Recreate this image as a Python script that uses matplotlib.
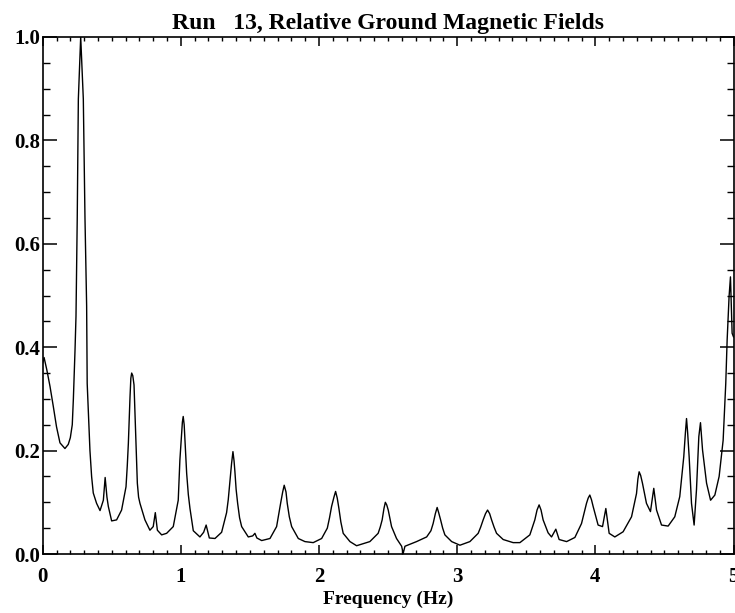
import matplotlib
matplotlib.use("Agg")
import matplotlib.pyplot as plt
from matplotlib.ticker import MultipleLocator

# Frequency (Hz) and relative field values
freq = [0.000, 0.010, 0.030, 0.053, 0.077, 0.100, 0.125, 0.161, 0.185, 0.200,
        0.214, 0.222, 0.234, 0.241, 0.250, 0.258, 0.275, 0.294, 0.306, 0.318,
        0.322, 0.342, 0.354, 0.366, 0.390, 0.415, 0.439, 0.452, 0.465, 0.475,
        0.499, 0.535, 0.571, 0.603, 0.612, 0.620, 0.632, 0.638, 0.644, 0.652,
        0.661, 0.667, 0.673, 0.685, 0.694, 0.704, 0.740, 0.776, 0.800, 0.815,
        0.830, 0.861, 0.897, 0.945, 0.981, 0.993, 1.000, 1.006, 1.011, 1.017,
        1.024, 1.030, 1.042, 1.054, 1.066, 1.090, 1.138, 1.165, 1.183, 1.206,
        1.247, 1.295, 1.331, 1.343, 1.355, 1.367, 1.377, 1.385, 1.391, 1.400,
        1.411, 1.425, 1.440, 1.488, 1.520, 1.536, 1.550, 1.585, 1.645, 1.693,
        1.705, 1.722, 1.737, 1.748, 1.761, 1.770, 1.785, 1.802, 1.850, 1.898,
        1.958, 2.019, 2.060, 2.076, 2.091, 2.108, 2.120, 2.132, 2.144, 2.158,
        2.175, 2.224, 2.272, 2.368, 2.428, 2.443, 2.457, 2.470, 2.480, 2.490,
        2.501, 2.512, 2.525, 2.561, 2.598, 2.609, 2.622, 2.706, 2.779, 2.810,
        2.826, 2.842, 2.855, 2.866, 2.880, 2.895, 2.911, 2.960, 3.020, 3.092,
        3.152, 3.170, 3.188, 3.205, 3.220, 3.235, 3.249, 3.267, 3.285, 3.333,
        3.405, 3.454, 3.526, 3.562, 3.578, 3.593, 3.607, 3.622, 3.658, 3.683,
        3.714, 3.738, 3.792, 3.852, 3.900, 3.936, 3.948, 3.960, 3.972, 3.984,
        4.020, 4.052, 4.076, 4.100, 4.141, 4.201, 4.262, 4.298, 4.308, 4.317,
        4.328, 4.341, 4.370, 4.399, 4.423, 4.443, 4.479, 4.527, 4.575, 4.611,
        4.640, 4.652, 4.660, 4.668, 4.679, 4.696, 4.715, 4.732, 4.749, 4.761,
        4.776, 4.805, 4.834, 4.865, 4.896, 4.925, 4.944, 4.954, 4.968, 4.978,
        4.990, 5.000]

field = [0.370, 0.380, 0.356, 0.324, 0.285, 0.246, 0.215, 0.204, 0.212, 0.225,
         0.250, 0.300, 0.395, 0.460, 0.650, 0.880, 1.000, 0.880, 0.650, 0.480,
         0.330, 0.200, 0.150, 0.118, 0.098, 0.084, 0.104, 0.148, 0.110, 0.092,
         0.064, 0.066, 0.085, 0.130, 0.170, 0.214, 0.304, 0.340, 0.350, 0.345,
         0.327, 0.280, 0.234, 0.137, 0.110, 0.098, 0.066, 0.046, 0.053, 0.080,
         0.046, 0.037, 0.040, 0.053, 0.104, 0.182, 0.210, 0.233, 0.255, 0.266,
         0.250, 0.220, 0.156, 0.115, 0.088, 0.045, 0.033, 0.042, 0.056, 0.031,
         0.030, 0.042, 0.080, 0.105, 0.140, 0.175, 0.198, 0.180, 0.160, 0.125,
         0.098, 0.070, 0.053, 0.033, 0.035, 0.040, 0.031, 0.026, 0.030, 0.053,
         0.072, 0.098, 0.120, 0.133, 0.120, 0.098, 0.072, 0.053, 0.030, 0.024,
         0.022, 0.030, 0.050, 0.070, 0.092, 0.110, 0.121, 0.108, 0.088, 0.062,
         0.040, 0.024, 0.016, 0.024, 0.040, 0.052, 0.066, 0.088, 0.100, 0.095,
         0.085, 0.070, 0.053, 0.030, 0.015, 0.001, 0.015, 0.024, 0.033, 0.045,
         0.059, 0.078, 0.090, 0.080, 0.066, 0.050, 0.037, 0.024, 0.017, 0.024,
         0.040, 0.052, 0.066, 0.078, 0.085, 0.078, 0.066, 0.052, 0.040, 0.028,
         0.022, 0.022, 0.037, 0.066, 0.085, 0.095, 0.085, 0.066, 0.041, 0.033,
         0.048, 0.028, 0.024, 0.032, 0.059, 0.098, 0.108, 0.114, 0.105, 0.092,
         0.056, 0.053, 0.088, 0.040, 0.033, 0.043, 0.072, 0.117, 0.145, 0.159,
         0.152, 0.137, 0.098, 0.082, 0.127, 0.085, 0.056, 0.054, 0.072, 0.111,
         0.188, 0.235, 0.262, 0.235, 0.188, 0.098, 0.056, 0.124, 0.227, 0.254,
         0.201, 0.137, 0.104, 0.114, 0.150, 0.220, 0.330, 0.414, 0.498, 0.536,
         0.427, 0.420]

xticks = [0, 1, 2, 3, 4, 5]
xticklabels = ["0", "1", "2", "3", "4", "5"]
yticks = [0.0, 0.2, 0.4, 0.6, 0.8, 1.0]
yticklabels = ["0.0", "0.2", "0.4", "0.6", "0.8", "1.0"]

title = "Run   13, Relative Ground Magnetic Fields"
xlabel = "Frequency (Hz)"

plt.rcParams["font.family"] = ["Liberation Serif", "DejaVu Serif"]
plt.rcParams["font.weight"] = "bold"

fig = plt.figure(figsize=(7.35, 6.13), dpi=100)
ax = fig.add_axes([42.7 / 735, (613 - 554) / 613, (733.5 - 42.7) / 735, (554 - 37) / 613])

ax.plot(freq, field, color="black", lw=1.0)
ax.set_xlim(0, 5)
ax.set_ylim(0, 1.0)

ax.set_xticks(xticks)
ax.set_xticklabels(xticklabels)
ax.set_yticks(yticks)
ax.set_yticklabels(yticklabels)
ax.xaxis.set_minor_locator(MultipleLocator(0.1))
ax.yaxis.set_minor_locator(MultipleLocator(0.05))

ax.tick_params(axis="x", which="major", direction="in", length=6.5, width=1.1,
               top=True, bottom=True, labelsize=15, pad=9)
ax.tick_params(axis="x", which="minor", direction="in", length=3, width=1.0,
               top=True, bottom=True)
ax.tick_params(axis="y", which="major", direction="in", length=10, width=1.1,
               left=True, right=True, labelsize=15, pad=2)
ax.tick_params(axis="y", which="minor", direction="in", length=5, width=1.0,
               left=True, right=True)
for lab in ax.get_xticklabels() + ax.get_yticklabels():
    lab.set_fontweight("bold")

for s in ax.spines.values():
    s.set_linewidth(1.2)

ax.set_xlabel(xlabel, fontsize=14, fontweight="bold", labelpad=3)
ax.set_title(title, fontsize=17, fontweight="bold", pad=6)

fig.savefig("out.png", dpi=100)
